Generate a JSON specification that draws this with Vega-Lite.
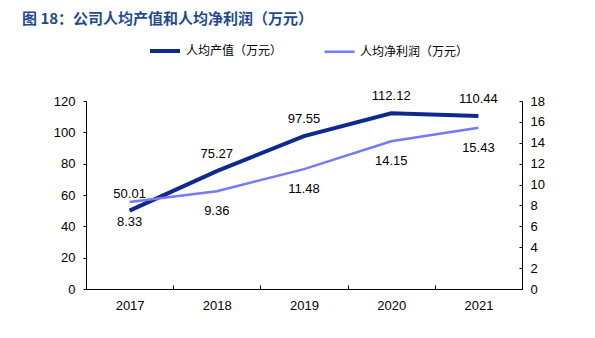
{
  "$schema": "https://vega.github.io/schema/vega-lite/v6.json",
  "width": 436,
  "height": 188,
  "autosize": {"type": "none"},
  "padding": {"left": 86, "top": 101, "right": 73, "bottom": 49},
  "background": "white",
  "title": {
    "text": "图 18：公司人均产值和人均净利润（万元）",
    "anchor": "start",
    "frame": "group",
    "dx": -64,
    "offset": 7,
    "font": "Noto Sans CJK SC",
    "fontSize": 15,
    "fontWeight": "bold",
    "color": "#1F4A8C"
  },
  "config": {
    "view": {"stroke": null},
    "font": "Liberation Sans",
    "axis": {
      "labelFont": "Liberation Sans",
      "labelFontSize": 13,
      "labelColor": "#000000",
      "domainColor": "#000000",
      "tickColor": "#000000",
      "grid": false,
      "title": null,
      "labelOverlap": false
    }
  },
  "data": {
    "values": [
      {"year": "2017", "output": 50.01, "profit": 8.33},
      {"year": "2018", "output": 75.27, "profit": 9.36},
      {"year": "2019", "output": 97.55, "profit": 11.48},
      {"year": "2020", "output": 112.12, "profit": 14.15},
      {"year": "2021", "output": 110.44, "profit": 15.43}
    ]
  },
  "encoding": {
    "x": {
      "field": "year",
      "type": "ordinal",
      "scale": {"type": "band", "paddingInner": 0, "paddingOuter": 0},
      "axis": {"labelAngle": 0, "tickBand": "extent", "tickSize": -4, "labelPadding": 14}
    }
  },
  "layer": [
    {
      "layer": [
        {
          "mark": {"type": "line"},
          "encoding": {
            "y": {"field": "output", "type": "quantitative", "scale": {"domain": [0, 120]},
              "axis": {"values": [0, 20, 40, 60, 80, 100, 120], "tickSize": 3, "labelPadding": 8, "orient": "left"}},
            "color": {"datum": "人均产值（万元）", "type": "nominal",
              "scale": {"domain": ["人均产值（万元）", "人均净利润（万元）"], "range": ["#0F2A8C", "#7878FA"]},
              "legend": {
                "title": null, "orient": "none", "direction": "horizontal",
                "legendX": 62, "legendY": -67,
                "symbolType": "stroke", "symbolSize": 900, "symbolStrokeWidth": 3.5,
                "labelFont": "Noto Sans CJK SC", "labelFontSize": 12, "labelColor": "#000000",
                "columnPadding": 36, "labelOffset": 4
              }
            },
            "strokeWidth": {"datum": "人均产值（万元）", "type": "nominal",
              "scale": {"domain": ["人均产值（万元）", "人均净利润（万元）"], "range": [4, 2.5]}, "legend": null}
          }
        },
        {
          "mark": {"type": "text", "dy": -17, "font": "Liberation Sans", "fontSize": 13, "color": "#000000"},
          "encoding": {
            "y": {"field": "output", "type": "quantitative", "axis": {"values": [0, 20, 40, 60, 80, 100, 120], "tickSize": 3, "labelPadding": 8, "orient": "left"}},
            "text": {"field": "output", "type": "quantitative", "format": ".2f"}
          }
        }
      ]
    },
    {
      "layer": [
        {
          "mark": {"type": "line"},
          "encoding": {
            "y": {"field": "profit", "type": "quantitative", "scale": {"domain": [0, 18]},
              "axis": {"values": [0, 2, 4, 6, 8, 10, 12, 14, 16, 18], "orient": "right", "tickSize": -3, "labelPadding": 11}},
            "color": {"datum": "人均净利润（万元）", "type": "nominal"},
            "strokeWidth": {"datum": "人均净利润（万元）", "type": "nominal", "legend": null}
          }
        },
        {
          "mark": {"type": "text", "dy": 20, "font": "Liberation Sans", "fontSize": 13, "color": "#000000"},
          "encoding": {
            "y": {"field": "profit", "type": "quantitative", "axis": {"values": [0, 2, 4, 6, 8, 10, 12, 14, 16, 18], "orient": "right", "tickSize": -3, "labelPadding": 11}},
            "text": {"field": "profit", "type": "quantitative", "format": ".2f"}
          }
        }
      ]
    }
  ],
  "resolve": {"scale": {"y": "independent"}}
}
